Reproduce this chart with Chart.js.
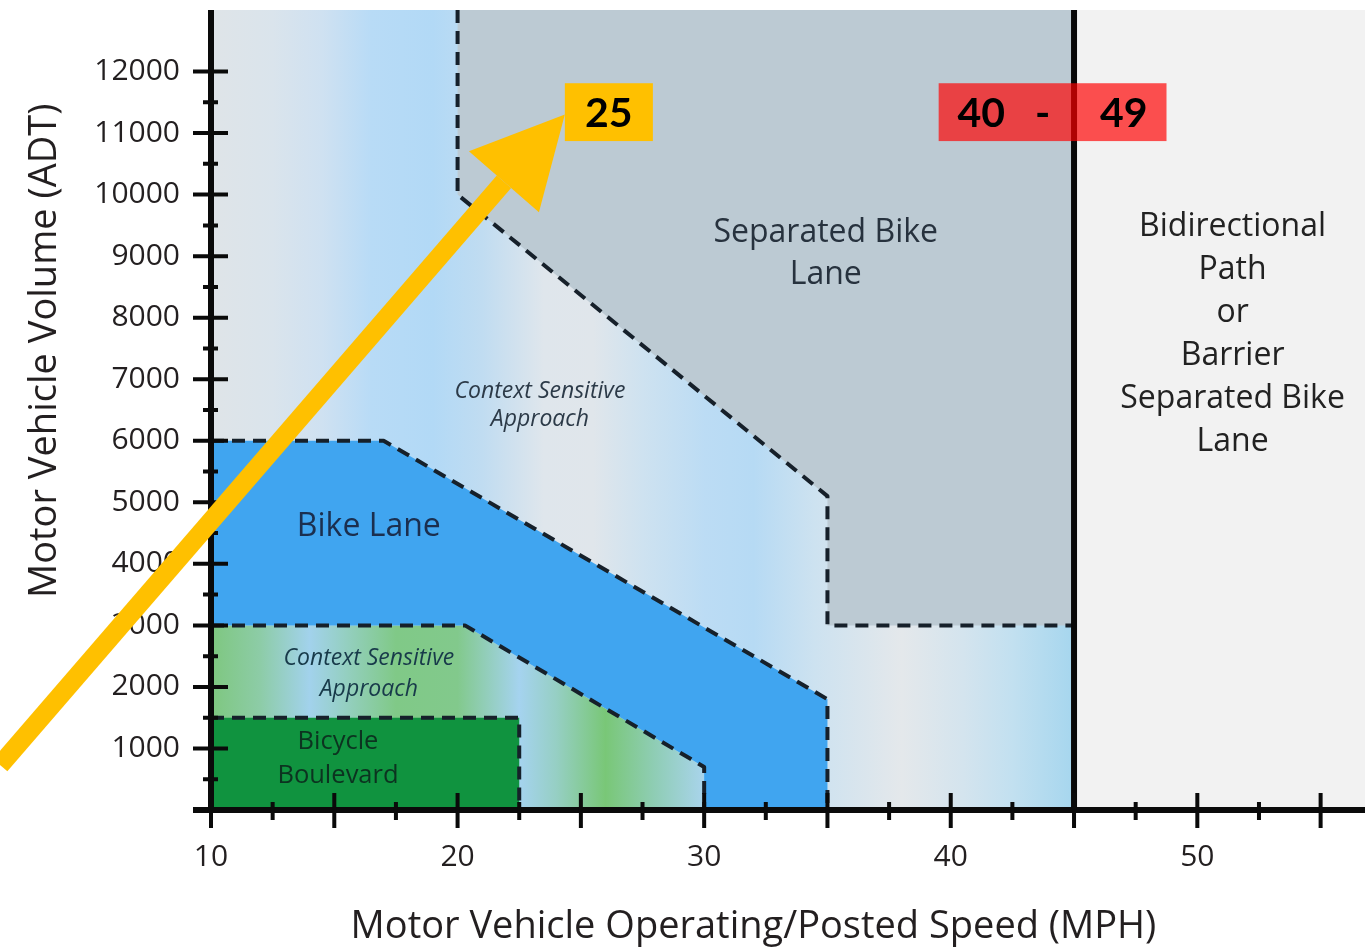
<!DOCTYPE html>
<html>
<head>
<meta charset="utf-8">
<title>Bikeway selection by speed and volume</title>
<script src="https://cdn.jsdelivr.net/npm/chart.js@4.4.1/dist/chart.umd.min.js"></script>
<style>
  html, body { margin: 0; padding: 0; background: #ffffff; }
  canvas { display: block; }
</style>
</head>
<body>
<canvas id="bikeChart" width="1370" height="950"></canvas>
<script>
// axis ranges and tick labels
const speedRange = [10, 56.8];
const volumeRange = [0, 13000];
const speedLabels = [10, 20, 30, 40, 50];
const volumeLabels = [1000, 2000, 3000, 4000, 5000, 6000, 7000, 8000, 9000, 10000, 11000, 12000];

// facility zones (speed in MPH, volume in ADT), corners
const contextSpeed = [10, 45, 45, 10, 10];
const contextVolume = [0, 0, 13000, 13000, 0];
const barrierSpeed = [45, 56.8, 56.8, 45, 45];
const barrierVolume = [0, 0, 13000, 13000, 0];
const separatedSpeed = [20, 45, 45, 35, 35, 20, 20];
const separatedVolume = [13000, 13000, 3000, 3000, 5100, 10000, 13000];
const bikeLaneSpeed = [10, 17, 35, 35, 30, 30, 20.3, 10, 10];
const bikeLaneVolume = [6000, 6000, 1800, 0, 0, 700, 3000, 3000, 6000];
const lowContextSpeed = [10, 20.3, 30, 30, 10, 10];
const lowContextVolume = [3000, 3000, 700, 0, 0, 3000];
const boulevardSpeed = [10, 22.5, 22.5, 10, 10];
const boulevardVolume = [0, 0, 1500, 1500, 0];

// dashed zone edges
const separatedEdgeSpeed = [20, 20, 35, 35, 45];
const separatedEdgeVolume = [13000, 10000, 5100, 3000, 3000];
const bikeLaneEdgeSpeed = [10, 17, 35, 35];
const bikeLaneEdgeVolume = [6000, 6000, 1800, 0];
const lowContextEdgeSpeed = [10, 20.3, 30, 30];
const lowContextEdgeVolume = [3000, 3000, 700, 0];
const boulevardEdgeSpeed = [10, 22.5, 22.5];
const boulevardEdgeVolume = [1500, 1500, 0];

// solid limit at 45 mph
const limitSpeed = [45, 45];
const limitVolume = [0, 13000];

// highlighted values
const pointedSpeed = '25';
const speedBand = '40   -     49';

// ---- styling / annotation placement (not data) ----
const contextStops = [
  [10, '#dfe4e8'], [12.5, '#dae4ec'], [14.5, '#cfe1f1'], [16.5, '#b8dbf6'], [19, '#b2d9f6'],
  [21, '#c0dcf1'], [23.5, '#dfe6ec'], [25.5, '#e0e6eb'], [27.5, '#cee2f0'], [30, '#bcdcf4'],
  [32, '#b6daf4'], [34.5, '#cde2f0'], [38, '#e4e8eb'], [40.5, '#d4e4ee'], [42.5, '#c2e0f0'], [45, '#a6d6ee']
];
const lowContextStops = [
  [10, '#7ec77f'], [12, '#8dcca7'], [14, '#a2d2ec'], [15.5, '#94cfc0'], [17.5, '#80c987'],
  [20, '#82c98c'], [22.5, '#a5d3ef'], [24, '#96cfc4'], [26, '#79c777'], [28, '#8fcdb5'], [30, '#a9d4ec']
];

const zoneLabels = [
  { lines: ['Separated Bike', 'Lane'], x: 34.93, y: 9030, size: 32, gap: 42, color: '#27323e' },
  { lines: ['Bidirectional', 'Path', 'or', 'Barrier', 'Separated Bike', 'Lane'], x: 51.43, y: 7730, size: 32, gap: 43, color: '#222222' },
  { lines: ['Context Sensitive', 'Approach'], x: 23.34, y: 6580, size: 23, gap: 28, color: '#2c3a48', italic: true },
  { lines: ['Bike Lane'], x: 16.4, y: 4600, size: 32, gap: 0, color: '#1b2f4f' },
  { lines: ['Context Sensitive', 'Approach'], x: 16.4, y: 2215, size: 23, gap: 31, color: '#183a4a', italic: true },
  { lines: ['Bicycle', 'Boulevard'], x: 15.15, y: 830, size: 25.5, gap: 34, color: '#0c3320' }
];

const arrow = {
  tail: { x: 1.45, y: 730 },
  tip: { x: 24.35, y: 11300 },
  wingA: { x: 20.46, y: 10705 },
  wingB: { x: 23.3, y: 9714 }
};
const speedBox = { x0: 24.35, x1: 27.92, y0: 10870, y1: 11810 };
const bandBox = { x0: 39.51, x1: 48.75, y0: 10870, y1: 11810 };

function pts(xs, ys) {
  return xs.map((v, i) => ({ x: v, y: ys[i] }));
}

function stripes(stops) {
  return function (c) {
    const chart = c.chart;
    if (!chart.chartArea) return stops[0][1];
    const sx = chart.scales.x;
    const first = stops[0][0];
    const last = stops[stops.length - 1][0];
    const g = chart.ctx.createLinearGradient(sx.getPixelForValue(first), 0, sx.getPixelForValue(last), 0);
    for (const [v, col] of stops) g.addColorStop((v - first) / (last - first), col);
    return g;
  };
}

function zone(xs, ys, color, order) {
  return {
    data: pts(xs, ys),
    fill: 'shape',
    backgroundColor: color,
    borderColor: 'rgba(0,0,0,0)',
    borderWidth: 0,
    pointRadius: 0,
    tension: 0,
    order: order
  };
}

function edge(xs, ys) {
  return {
    data: pts(xs, ys),
    fill: false,
    borderColor: '#16202a',
    borderWidth: 4,
    borderDash: [13, 8],
    borderJoinStyle: 'round',
    pointRadius: 0,
    tension: 0,
    order: 2
  };
}

const overlay = {
  id: 'overlay',
  afterDraw(chart) {
    const { ctx, scales: { x, y } } = chart;
    const px = v => x.getPixelForValue(v);
    const py = v => y.getPixelForValue(v);
    const x0 = px(speedRange[0]);
    const y0 = py(volumeRange[0]);
    ctx.save();

    // axis lines
    ctx.strokeStyle = '#0a0a0a';
    ctx.lineWidth = 6;
    ctx.beginPath();
    ctx.moveTo(x0, py(volumeRange[1]));
    ctx.lineTo(x0, y0 + 3);
    ctx.moveTo(x0 - 18, y0);
    ctx.lineTo(px(speedRange[1]), y0);
    ctx.stroke();

    // tick marks
    ctx.lineWidth = 4;
    ctx.beginPath();
    for (let v = 500; v <= 12000; v += 500) {
      const big = v % 1000 === 0;
      ctx.moveTo(x0 - (big ? 18 : 8), py(v));
      ctx.lineTo(x0 + (big ? 17 : 7), py(v));
    }
    for (let v = 10; v <= 55; v += 2.5) {
      const big = v % 5 === 0;
      ctx.moveTo(px(v), y0 - (big ? 17 : 8));
      ctx.lineTo(px(v), y0 + (big ? 18 : 10));
    }
    ctx.stroke();

    // zone names
    ctx.textAlign = 'center';
    ctx.textBaseline = 'middle';
    for (const lab of zoneLabels) {
      ctx.font = (lab.italic ? 'italic ' : '') + lab.size + "px 'Open Sans', sans-serif";
      ctx.fillStyle = lab.color;
      const top = py(lab.y) - (lab.lines.length - 1) * lab.gap / 2;
      lab.lines.forEach((t, i) => ctx.fillText(t, px(lab.x), top + i * lab.gap));
    }

    // pointer arrow
    const mid = { x: (arrow.wingA.x + arrow.wingB.x) / 2, y: (arrow.wingA.y + arrow.wingB.y) / 2 };
    ctx.strokeStyle = '#ffc000';
    ctx.lineWidth = 19;
    ctx.beginPath();
    ctx.moveTo(px(arrow.tail.x), py(arrow.tail.y));
    ctx.lineTo(px(mid.x), py(mid.y));
    ctx.stroke();
    ctx.fillStyle = '#ffc000';
    ctx.beginPath();
    ctx.moveTo(px(arrow.tip.x), py(arrow.tip.y));
    ctx.lineTo(px(arrow.wingA.x), py(arrow.wingA.y));
    ctx.lineTo(px(arrow.wingB.x), py(arrow.wingB.y));
    ctx.closePath();
    ctx.fill();

    // value boxes
    ctx.fillStyle = '#ffc000';
    ctx.fillRect(px(speedBox.x0), py(speedBox.y1), px(speedBox.x1) - px(speedBox.x0), py(speedBox.y0) - py(speedBox.y1));
    ctx.fillStyle = 'rgba(255, 0, 0, 0.68)';
    ctx.fillRect(px(bandBox.x0), py(bandBox.y1), px(bandBox.x1) - px(bandBox.x0), py(bandBox.y0) - py(bandBox.y1));
    ctx.fillStyle = '#000000';
    ctx.font = "bold 41px Lato, 'Open Sans', sans-serif";
    ctx.fillText(pointedSpeed, px((speedBox.x0 + speedBox.x1) / 2), py((speedBox.y0 + speedBox.y1) / 2) + 2);
    ctx.fillText(speedBand, px((bandBox.x0 + bandBox.x1) / 2), py((bandBox.y0 + bandBox.y1) / 2) + 2);
    ctx.restore();
  }
};

Chart.defaults.font.family = "'Open Sans', sans-serif";
Chart.defaults.color = '#231f20';

new Chart(document.getElementById('bikeChart'), {
  type: 'line',
  data: {
    datasets: [
      zone(contextSpeed, contextVolume, stripes(contextStops), 9),
      zone(barrierSpeed, barrierVolume, '#f2f2f2', 9),
      zone(separatedSpeed, separatedVolume, '#bccad3', 8),
      zone(bikeLaneSpeed, bikeLaneVolume, '#40a5f0', 7),
      zone(lowContextSpeed, lowContextVolume, stripes(lowContextStops), 7),
      zone(boulevardSpeed, boulevardVolume, '#10933f', 6),
      edge(separatedEdgeSpeed, separatedEdgeVolume),
      edge(bikeLaneEdgeSpeed, bikeLaneEdgeVolume),
      edge(lowContextEdgeSpeed, lowContextEdgeVolume),
      edge(boulevardEdgeSpeed, boulevardEdgeVolume),
      {
        data: pts(limitSpeed, limitVolume),
        fill: false,
        borderColor: '#080808',
        borderWidth: 6,
        pointRadius: 0,
        order: 1
      }
    ]
  },
  options: {
    responsive: false,
    animation: false,
    events: [],
    layout: { padding: { top: 10, right: 5, left: 0, bottom: 0 } },
    plugins: {
      legend: { display: false },
      tooltip: { enabled: false }
    },
    scales: {
      x: {
        type: 'linear',
        min: speedRange[0],
        max: speedRange[1],
        afterFit: s => { s.height = 140; s.paddingLeft = 0; s.paddingRight = 0; },
        grid: { display: false, drawTicks: false },
        border: { display: false },
        ticks: {
          stepSize: 10,
          autoSkip: false,
          maxRotation: 0,
          padding: 29,
          font: { size: 30 },
          callback: v => speedLabels.includes(v) ? String(v) : null
        },
        title: {
          display: true,
          text: 'Motor Vehicle Operating/Posted Speed (MPH)       ',
          font: { size: 38 },
          padding: { top: 0, bottom: 0 }
        }
      },
      y: {
        type: 'linear',
        min: volumeRange[0],
        max: volumeRange[1],
        afterFit: s => { s.width = 211; s.paddingTop = 0; s.paddingBottom = 0; },
        grid: { display: false, drawTicks: false },
        border: { display: false },
        ticks: {
          stepSize: 1000,
          autoSkip: false,
          padding: 31,
          font: { size: 30 },
          callback: v => volumeLabels.includes(v) ? String(v) : null
        },
        title: {
          display: true,
          text: '            Motor Vehicle Volume (ADT)',
          font: { size: 38 },
          padding: { top: 22, bottom: 0 }
        }
      }
    }
  },
  plugins: [overlay]
});
</script>
</body>
</html>
